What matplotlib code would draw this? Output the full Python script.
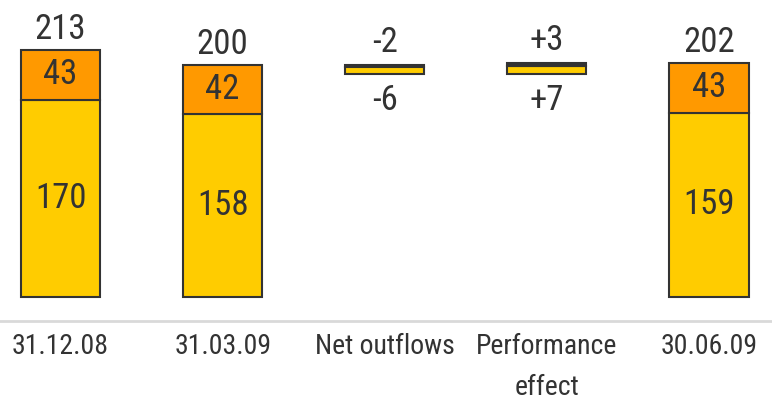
import matplotlib
matplotlib.use("Agg")
import matplotlib.pyplot as plt
from matplotlib import font_manager

# Data
categories = ["31.12.08", "31.03.09", "Net outflows", "Performance\neffect", "30.06.09"]
base_yellow = [170, 158, None, None, 159]
base_orange = [43, 42, None, None, 43]
totals = [213, 200, None, None, 202]
# bridge steps: yellow part and orange part of each change
outflow_yellow, outflow_orange = -6, -2
perf_yellow, perf_orange = 7, 3
outflow_labels = ["-2", "-6"]
perf_labels = ["+3", "+7"]

YELLOW = "#FFCC00"
ORANGE = "#FF9900"
EDGE = "#333333"
TEXT = "#333333"

names = {f.name for f in font_manager.fontManager.ttflist}
fam = [f for f in ["Liberation Sans Narrow", "Roboto Condensed", "Liberation Sans", "DejaVu Sans"] if f in names]
plt.rcParams["font.family"] = fam

fig = plt.figure(figsize=(7.72, 4.0), dpi=100)
ax = fig.add_axes([0, 1 - 321 / 400, 1, 321 / 400])

W = 0.49
x = list(range(len(categories)))

# stacked level bars
for i in [0, 1, 4]:
    ax.bar(i, base_yellow[i], W, color=YELLOW, edgecolor=EDGE, linewidth=1.5)
    ax.bar(i, base_orange[i], W, bottom=base_yellow[i], color=ORANGE, edgecolor=EDGE, linewidth=1.5)
    ax.text(i, base_yellow[i] / 2, str(base_yellow[i]), ha="center", va="center", fontsize=25, color=TEXT)
    ax.text(i, base_yellow[i] + base_orange[i] / 2, str(base_orange[i]), ha="center", va="center", fontsize=25, color=TEXT)
    ax.annotate(str(totals[i]), (i, totals[i]), xytext=(0, 3), textcoords="offset points",
                ha="center", va="bottom", fontsize=25, color=TEXT)

# net outflows bridge: starts at the 31.03.09 level, orange on top
start = totals[1]
o_top = start
o_bot = start + outflow_orange
y_bot = o_bot + outflow_yellow
ax.bar(2, -outflow_orange, W, bottom=o_bot, color=EDGE, edgecolor=EDGE, linewidth=1.5)
ax.bar(2, -outflow_yellow, W, bottom=y_bot, color=YELLOW, edgecolor=EDGE, linewidth=1.5)
ax.annotate(outflow_labels[0], (2, o_top), xytext=(0, 4), textcoords="offset points",
            ha="center", va="bottom", fontsize=25, color=TEXT)
ax.annotate(outflow_labels[1], (2, y_bot), xytext=(0, -7), textcoords="offset points",
            ha="center", va="top", fontsize=25, color=TEXT)

# performance bridge: yellow at bottom, orange on top
p_start = y_bot
ax.bar(3, perf_yellow, W, bottom=p_start, color=YELLOW, edgecolor=EDGE, linewidth=1.5)
ax.bar(3, perf_orange, W, bottom=p_start + perf_yellow, color=EDGE, edgecolor=EDGE, linewidth=1.5)
p_top = p_start + perf_yellow + perf_orange
ax.annotate(perf_labels[0], (3, p_top), xytext=(0, 4), textcoords="offset points",
            ha="center", va="bottom", fontsize=25, color=TEXT)
ax.annotate(perf_labels[1], (3, p_start), xytext=(0, -7), textcoords="offset points",
            ha="center", va="top", fontsize=25, color=TEXT)

ax.set_xlim(-0.374, 4.39)
ax.set_ylim(-20.7, -20.7 + 321 / 1.16)
ax.set_xticks(x)
ax.set_xticklabels(categories, fontsize=20, color=TEXT, linespacing=1.65)
ax.tick_params(axis="x", length=0, pad=9)
ax.set_yticks([])
for s in ["top", "right", "left"]:
    ax.spines[s].set_visible(False)
ax.spines["bottom"].set_color("#d9d9d9")
ax.spines["bottom"].set_linewidth(2)
ax.set_facecolor("white")

fig.savefig("out.png", dpi=100)
